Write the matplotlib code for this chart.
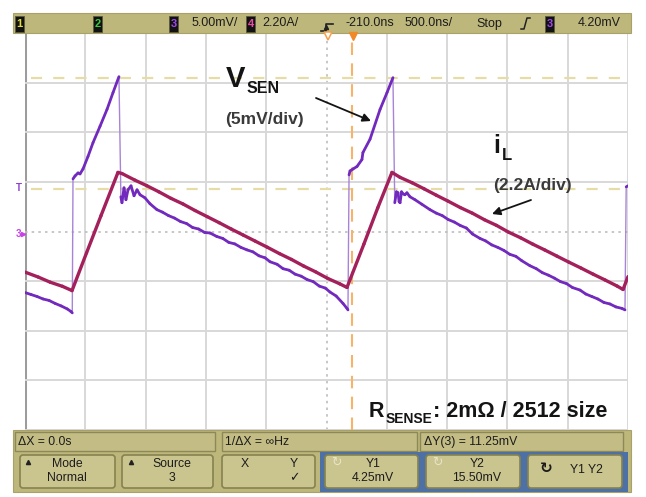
import numpy as np
import matplotlib
matplotlib.use("Agg")
import matplotlib.pyplot as plt
from matplotlib.patches import Rectangle, FancyBboxPatch
from matplotlib.collections import LineCollection

# ---------------- data ----------------
# Channel 3 : V_SEN in mV (5 mV/div), time in ns (trigger at t = 0)
vsen_t_ns = [
    -2710, -2660, -2610, -2560, -2510, -2460, -2410, -2360, -2330, -2318,
    -2312, -2295, -2270, -2254, -2229, -2188, -2146, -2088, -2030, -1980, -1931,
    -1915, -1906, -1889, -1873, -1856, -1831, -1806, -1781, -1756, -1716, -1674, -1616,
    -1570, -1520, -1470, -1420, -1370, -1320, -1270, -1220, -1176, -1120, -1070, -1020,
    -970, -920, -870, -820, -770, -720, -678, -620, -570, -520, -470, -420, -370, -320,
    -270, -220, -181, -130, -73, -40, -32,
    -23, -15, 10, 43, 84, 92, 151, 234, 292, 341,
    356, 370, 383, 392, 400, 412, 424, 440, 457, 482, 524, 580, 648,
    700, 750, 800, 850, 900, 950, 1000, 1063, 1110, 1160, 1210, 1260, 1310, 1360, 1410,
    1477, 1530, 1580, 1630, 1680, 1730, 1780, 1830, 1892, 1940, 1990, 2040, 2090, 2140,
    2190, 2240, 2265, 2275, 2290,
]
vsen_mV = [
    -6.15, -6.35, -6.55, -6.80, -6.95, -7.25, -7.50, -7.80, -8.05, -8.20,
    5.30, 5.60, 5.90, 5.80, 6.30, 7.55, 8.95, 10.60, 12.30, 14.00, 15.60,
    3.50, 2.90, 4.40, 3.20, 4.20, 4.60, 3.60, 4.20, 3.70, 3.40, 2.80, 2.20,
    1.95, 1.60, 1.35, 1.00, 0.80, 0.40, 0.25, -0.10, -0.15, -0.50, -0.70, -1.10,
    -1.25, -1.60, -1.85, -2.05, -2.45, -2.65, -3.05, -3.30, -3.75, -3.90, -4.30, -4.50, -4.85, -5.05,
    -5.50, -5.70, -6.10, -6.50, -7.25, -7.75, -7.90,
    5.70, 6.10, 6.30, 6.55, 7.25, 7.95, 9.30, 12.30, 14.00, 15.50,
    2.90, 4.00, 3.90, 3.00, 2.90, 4.00, 3.80, 3.70, 3.90, 3.50, 3.20, 2.75, 2.20,
    1.85, 1.60, 1.20, 0.95, 0.60, 0.35, -0.25, -0.70, -0.95, -1.35, -1.60, -1.90, -2.30, -2.50, -2.95,
    -3.45, -3.75, -4.15, -4.40, -4.70, -5.05, -5.25, -5.65, -5.90, -6.30, -6.55, -6.80, -7.15, -7.30,
    -7.60, -7.75, -7.90, 4.50, 4.60,
]

# Channel 4 : inductor current i_L in A (2.2 A/div)
il_t_ns = [
    -2710, -2600, -2500, -2400, -2320, -2200, -2080, -1939, -1906, -1800,
    -1700, -1600, -1500, -1400, -1300, -1200, -1100, -1000, -900, -800,
    -700, -600, -500, -400, -300, -200, -100, -40, 100, 215,
    333, 400, 500, 600, 700, 800, 900, 1000, 1100, 1200,
    1300, 1400, 1500, 1600, 1700, 1800, 1900, 2000, 2100, 2200,
    2249, 2290,
]
il_A = [
    -1.80, -2.02, -2.25, -2.43, -2.62, -0.95, 0.70, 2.62, 2.57, 2.28,
    2.03, 1.76, 1.47, 1.22, 0.93, 0.66, 0.39, 0.11, -0.16, -0.43,
    -0.70, -0.98, -1.24, -1.53, -1.79, -2.08, -2.32, -2.48, -0.56, 1.05,
    2.62, 2.40, 2.16, 1.89, 1.61, 1.34, 1.06, 0.81, 0.52, 0.27,
    -0.03, -0.28, -0.56, -0.82, -1.09, -1.36, -1.62, -1.89, -2.15, -2.42,
    -2.57, -2.00,
]

# scope settings / cursors
time_per_div_ns = 500
delay_ns = -210
vsen_per_div_mV = 5.00
il_per_div_A = 2.20
cursor_y1_mV = 4.25
cursor_y2_mV = 15.50
trig_level_mV = 4.20

top_bar_texts = ["5.00mV/", "2.20A/", "-210.0ns", "500.0ns/", "Stop", "4.20mV"]
row1_texts = ["\u0394X = 0.0s", "1/\u0394X = \u221eHz", "\u0394Y(3) = 11.25mV"]

# ---------------- figure ----------------
W, H = 646, 497
fig = plt.figure(figsize=(W / 100, H / 100), dpi=100, facecolor="white")

FONT_UI = ["Liberation Sans Narrow", "Liberation Sans", "DejaVu Sans"]
FONT_ANN = ["Liberation Sans", "DejaVu Sans"]

# scope screen axes (x: time in ns, y: mV for channel 3)
x0, x1, y0, y1 = 25, 628, 33, 430
scope = fig.add_axes([x0 / W, (H - y1) / H, (x1 - x0) / W, (y1 - y0) / H])
tmin = delay_ns - 5 * time_per_div_ns
tmax = delay_ns + 5 * time_per_div_ns
scope.set_xlim(tmin, tmax)
scope.set_ylim(-4 * vsen_per_div_mV, 4 * vsen_per_div_mV)
scope.set_facecolor("white")
for s in scope.spines.values():
    s.set_visible(False)
scope.set_xticks([])
scope.set_yticks([])

# graticule
for k in range(11):
    t = tmin + k * time_per_div_ns
    if k == 5:
        scope.axvline(t, color="#bdbdbd", lw=1.2, ls=(0, (1.5, 2.5)), zorder=1)
    elif k == 0:
        scope.axvline(t, color="#9c9c9c", lw=2.2, zorder=1)
    else:
        scope.axvline(t, color="#d8d8d8", lw=1.4, zorder=1)
for k in range(9):
    v = -4 * vsen_per_div_mV + k * vsen_per_div_mV
    if k == 4:
        scope.axhline(v, color="#bdbdbd", lw=1.2, ls=(0, (1.5, 2.5)), zorder=1)
    else:
        scope.axhline(v, color="#d8d8d8", lw=1.4, zorder=1)

# cursors (yellow dashed) and trigger position (orange dashed)
for cy in (cursor_y1_mV, cursor_y2_mV):
    scope.axhline(cy, xmin=0.01, xmax=1.0, color="#e6dca6", lw=1.6,
                  ls=(0, (5, 5)), zorder=2)
scope.axvline(0, color="#f6b46a", lw=1.5, ls=(0, (6, 4)), zorder=2)


def draw_trace(ax, t, v, color, lw, edge_color, edge_lw, steep, z):
    t = np.asarray(t, float)
    v = np.asarray(v, float)
    pts = np.column_stack([t, v])
    segs = np.stack([pts[:-1], pts[1:]], axis=1)
    slope = np.abs(np.diff(v) / np.diff(t))
    fast = slope > steep
    ax.add_collection(LineCollection(segs[fast], colors=edge_color,
                                     linewidths=edge_lw, zorder=z))
    ax.add_collection(LineCollection(segs[~fast], colors=color, linewidths=lw,
                                     capstyle="round", joinstyle="round", zorder=z + 0.1))


draw_trace(scope, vsen_t_ns, vsen_mV, "#7229bd", 2.0, "#a884d8", 1.0, 0.3, 3)

il_ax = scope.twinx()
il_ax.set_ylim(-4 * il_per_div_A, 4 * il_per_div_A)
il_ax.set_xlim(tmin, tmax)
il_ax.axis("off")
draw_trace(il_ax, il_t_ns, il_A, "#a3205a", 2.4, "#a3205a", 1.2, 1.0, 4)

# ---------------- overlay in pixel coordinates (instrument chrome + labels) ----------------
ui = fig.add_axes([0, 0, 1, 1])
ui.set_xlim(0, W)
ui.set_ylim(H, 0)
ui.axis("off")
ui.patch.set_alpha(0)

KHAKI = "#bdb77b"
# top status bar
ui.add_patch(Rectangle((13, 13), 618, 20, fc=KHAKI, ec="#a8a26a", lw=0.8))
for bx, lab, col in [(15, "1", "#e4dc3a"), (93, "2", "#38cc3a"), (169, "3", "#a347f0"),
                     (246, "4", "#f04aa8"), (545, "3", "#a347f0")]:
    ui.add_patch(Rectangle((bx, 15.5), 9, 16, fc="#121212", ec="#5a5a40", lw=0.6))
    ui.text(bx + 4.5, 24, lab, color=col, fontsize=8, weight="bold",
            ha="center", va="center", family=FONT_UI)
for tx, s in zip([192, 262, 345, 405, 476, 578], top_bar_texts):
    ui.text(tx, 23.5, s, fontsize=9, color="#1c1c1c", ha="left", va="center",
            family=FONT_UI)
# trigger edge icons
ui.plot([321, 326, 326, 333], [31, 31, 24, 24], color="#222", lw=1.2)
ui.plot([326], [27], marker="^", color="#222", ms=3)
ui.plot([521, 524, 527, 530], [29, 29, 18, 18], color="#222", lw=1.1)
# trigger position markers
ui.plot([328], [35.5], marker="v", ms=6, mfc="white", mec="#f3a04a", mew=1.1)
ui.plot([353], [35.5], marker="v", ms=6, mfc="#f08a28", mec="#f08a28")

# left side markers: trigger level "T" and channel 3 ground
ui.text(19, 188, "T", fontsize=7, color="#8a3fd0", ha="center", va="center",
        weight="bold", family=FONT_UI)
ui.text(18, 234, "3", fontsize=7, color="#c843e6", ha="center", va="center",
        weight="bold", family=FONT_UI)
ui.plot([22.5], [234], marker=">", ms=3, color="#c843e6")

# bottom soft-key bar
ui.add_patch(Rectangle((13, 430), 618, 62, fc=KHAKI, ec="#a8a26a", lw=0.8))
for sx, sw in [(15, 200), (222, 195), (420, 203)]:
    ui.add_patch(Rectangle((sx, 432), sw, 19, fc="#c3bd85", ec="#8d8858", lw=1.0))
for tx, s in zip([18, 225, 424], row1_texts):
    ui.text(tx, 442, s, fontsize=8.8, color="#1c1c1c", va="center", family=FONT_UI)
ui.add_patch(Rectangle((320, 452), 308, 40, fc="#4e71a5", ec="none"))
for bx, bw in [(20, 95), (122, 91), (222, 93), (325, 93), (426, 94), (528, 94)]:
    ui.add_patch(FancyBboxPatch((bx, 455), bw, 33, boxstyle="round,pad=0,rounding_size=3",
                                fc="#cac48f", ec="#86824f", lw=1.2))
btn_lines = [
    (67, "Mode", "Normal"), (172, "Source", "3"), (373, "Y1", "4.25mV"),
    (477, "Y2", "15.50mV"),
]
for cx, l1, l2 in btn_lines:
    ui.text(cx, 464, l1, fontsize=8.8, ha="center", va="center", color="#1c1c1c", family=FONT_UI)
    ui.text(cx, 478, l2, fontsize=8.8, ha="center", va="center", color="#1c1c1c", family=FONT_UI)
ui.plot([28, 131], [462, 462], ls="none", marker="^", ms=3, color="#222")
ui.text(245, 464, "X", fontsize=8.8, ha="center", va="center", color="#1c1c1c", family=FONT_UI)
ui.text(294, 464, "Y", fontsize=8.8, ha="center", va="center", color="#1c1c1c", family=FONT_UI)
ui.text(294, 478, "\u2713", fontsize=9, ha="center", va="center", color="#1c1c1c",
        family=["DejaVu Sans"])
ui.text(336, 462, "\u21bb", fontsize=9, ha="center", va="center", color="#e8e4c8",
        family=["DejaVu Sans"])
ui.text(437, 462, "\u21bb", fontsize=9, ha="center", va="center", color="#e8e4c8",
        family=["DejaVu Sans"])
ui.text(546, 468, "\u21bb", fontsize=11, ha="center", va="center", color="#1c1c1c",
        weight="bold", family=["DejaVu Sans"])
ui.text(586, 470, "Y1 Y2", fontsize=8.8, ha="center", va="center", color="#1c1c1c", family=FONT_UI)

# ---------------- annotations ----------------
INK = "#141414"
ui.text(226, 87, "V", fontsize=21, weight="bold", color=INK, va="baseline", family=FONT_ANN)
ui.text(247, 93, "SEN", fontsize=11.5, weight="bold", color=INK, va="baseline", family=FONT_ANN)
ui.text(225, 124, "(5mV/div)", fontsize=12.5, weight="bold", color="#3a3a3a",
        va="baseline", family=FONT_ANN)
ui.annotate("", xy=(371, 121), xytext=(316, 98),
            arrowprops=dict(arrowstyle="-|>", color=INK, lw=1.3, mutation_scale=12,
                            shrinkA=0, shrinkB=0))

ui.text(493, 153, "i", fontsize=18, weight="bold", color=INK, va="baseline", family=FONT_ANN)
ui.text(502, 160, "L", fontsize=12, weight="bold", color=INK, va="baseline", family=FONT_ANN)
ui.text(493, 190, "(2.2A/div)", fontsize=12.5, weight="bold", color="#3a3a3a",
        va="baseline", family=FONT_ANN)
ui.annotate("", xy=(492, 214), xytext=(531, 200),
            arrowprops=dict(arrowstyle="-|>", color=INK, lw=1.3, mutation_scale=12,
                            shrinkA=0, shrinkB=0))

ui.text(369, 417, "R", fontsize=15.5, weight="bold", color=INK, va="baseline", family=FONT_ANN)
ui.text(386, 423, "SENSE", fontsize=10, weight="bold", color=INK, va="baseline", family=FONT_ANN)
ui.text(433, 417, ": 2m\u03a9 / 2512 size", fontsize=15.5, weight="bold", color=INK,
        va="baseline", family=FONT_ANN)

fig.savefig("out.png", dpi=100, facecolor="white")
